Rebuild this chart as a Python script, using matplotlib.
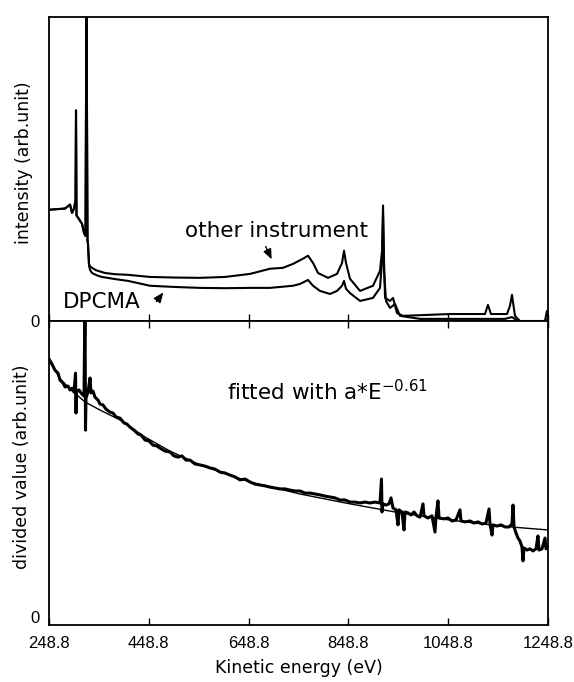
""" Kinetic energy spectra: DPCMA vs other instrument, and divided value """

import numpy as np
import matplotlib
matplotlib.use('Agg')
import matplotlib.pyplot as plt

# upper panel: intensity (arb.unit), both instruments
energy_top = [248.8, 280.9, 290.9, 294.9, 298.9, 301.9, 302.9, 303.9, 306.9, 314.9,
              318.9, 321.9, 323.9, 325.9, 326.9]
intensity_common = [36.6, 37.0, 38.3, 35.6, 37.0, 39.6, 69.3, 34.7, 34.0, 32.0,
                    29.0, 28.0, 110.0, 26.4, 25.4]

energy_other = [329.0, 331.0, 335.0, 343.0, 361.0, 381.0, 407.1, 451.2, 501.3, 551.4,
                601.5, 651.6, 691.7, 717.7, 737.8, 757.8, 767.8, 777.9, 787.9, 807.9,
                826.0, 836.0, 840.0, 844.0, 852.0, 872.1, 898.1, 912.1, 916.2, 918.2,
                920.2, 922.2, 932.2, 938.2, 946.2, 958.2, 1052.4, 1122.5, 1128.5, 1134.5,
                1166.6, 1172.6, 1176.6, 1182.6, 1192.6, 1242.7, 1246.7, 1248.8]
intensity_other = [18.8, 18.0, 17.5, 16.7, 15.8, 15.4, 15.2, 14.5, 14.3, 14.2,
                   14.5, 15.5, 17.2, 17.5, 18.8, 20.5, 21.5, 19.1, 15.8, 14.2,
                   15.5, 19.1, 23.1, 19.1, 13.9, 9.9, 11.6, 16.5, 23.1, 38.0,
                   19.8, 7.6, 6.6, 7.6, 2.6, 1.7, 2.3, 2.3, 5.3, 2.3,
                   2.3, 5.0, 8.6, 1.7, 0.0, 0.0, 3.3, 1.3]

energy_dpcma = [329.0, 331.0, 335.0, 345.0, 355.0, 381.0, 407.1, 451.2, 501.3, 551.4,
                601.5, 651.6, 691.7, 737.8, 751.8, 767.8, 777.9, 791.9, 811.9, 826.0,
                836.0, 840.0, 844.0, 852.0, 872.1, 898.1, 912.1, 916.2, 918.2, 920.2,
                924.2, 932.2, 942.2, 952.2, 992.3, 1162.6, 1176.6, 1188.6, 1242.7, 1248.8]
intensity_dpcma = [18.2, 16.8, 15.8, 15.0, 14.5, 13.8, 13.2, 11.6, 11.2, 10.9,
                   10.8, 10.9, 10.9, 11.6, 12.2, 13.5, 11.6, 9.9, 8.9, 9.9,
                   11.6, 13.2, 10.6, 9.2, 6.6, 7.6, 10.9, 19.8, 34.7, 16.5,
                   6.6, 4.3, 5.6, 1.7, 0.7, 0.7, 1.3, 0.0, 0.0, 0.7]

# lower panel: divided value (arb.unit) and its fit
energy_div = [248.8, 254.8, 260.8, 266.8, 270.8, 276.9, 280.9, 286.9, 290.9, 294.9,
              298.9, 301.9, 302.9, 303.9, 308.9, 314.9, 318.9, 320.9, 321.9, 322.9,
              326.9, 331.0, 333.0, 337.0, 341.0, 347.0, 351.0, 357.0, 363.0, 371.0,
              377.1, 383.1, 391.1, 399.1, 405.1, 411.1, 419.1, 427.2, 433.2, 441.2,
              449.2, 457.2, 465.2, 471.2, 481.3, 491.3, 499.3, 507.3, 515.3, 523.3,
              531.4, 541.4, 551.4, 561.4, 571.4, 581.5, 591.5, 601.5, 611.5, 621.5,
              631.6, 641.6, 651.6, 661.6, 671.6, 681.7, 691.7, 701.7, 711.7, 721.7,
              731.8, 741.8, 751.8, 761.8, 771.8, 781.8, 791.9, 801.9, 811.9, 821.9,
              831.9, 842.0, 852.0, 862.0, 872.0, 882.0, 892.0, 902.1, 912.1, 915.1,
              916.1, 918.1, 924.2, 930.2, 934.2, 938.2, 944.2, 948.2, 950.2, 956.2,
              960.2, 962.2, 968.2, 974.3, 980.3, 986.3, 992.3, 998.3, 1000.3, 1008.3,
              1016.3, 1022.3, 1024.3, 1028.3, 1030.4, 1040.4, 1048.4, 1056.4, 1064.4, 1072.4,
              1074.4, 1082.5, 1092.5, 1100.5, 1108.5, 1116.5, 1124.5, 1130.6, 1132.6, 1136.6,
              1138.6, 1146.6, 1154.6, 1162.6, 1170.6, 1176.6, 1178.7, 1180.7, 1184.7, 1188.7,
              1192.7, 1196.7, 1198.7, 1200.7, 1206.7, 1212.7, 1218.7, 1224.7, 1228.7, 1230.8,
              1236.8, 1242.8, 1244.8, 1248.8]
divided = [86.0, 84.3, 82.3, 81.3, 79.0, 78.0, 76.7, 77.0, 75.7, 76.3,
           75.0, 81.3, 68.0, 75.0, 75.7, 74.3, 73.7, 106.0, 62.3, 73.0,
           75.0, 79.7, 74.7, 75.3, 73.3, 72.3, 71.0, 70.7, 69.3, 68.3,
           68.0, 66.7, 66.3, 64.7, 64.3, 63.3, 62.3, 61.0, 60.7, 59.0,
           58.7, 57.3, 57.0, 56.3, 55.3, 55.0, 53.7, 53.3, 53.7, 52.3,
           52.3, 51.0, 50.7, 50.3, 49.7, 49.3, 48.3, 48.0, 47.3, 46.7,
           45.7, 46.0, 45.0, 44.3, 44.0, 43.7, 43.3, 43.0, 42.7, 42.7,
           42.3, 42.0, 42.0, 41.3, 41.3, 41.0, 40.7, 40.3, 40.0, 39.7,
           39.0, 39.0, 38.3, 38.3, 38.0, 38.3, 38.0, 38.3, 38.0, 46.0,
           35.0, 37.7, 37.3, 37.7, 39.7, 36.3, 35.7, 30.7, 35.7, 35.0,
           29.0, 35.0, 34.7, 34.0, 35.0, 33.7, 33.3, 37.7, 33.7, 33.0,
           33.7, 28.3, 33.3, 38.7, 33.0, 32.7, 33.0, 32.0, 32.3, 35.7,
           32.0, 31.7, 32.0, 31.3, 31.7, 31.0, 31.3, 36.0, 31.0, 27.3,
           30.7, 30.3, 30.7, 30.0, 30.0, 31.0, 37.3, 30.0, 28.0, 26.3,
           25.3, 23.3, 18.7, 23.0, 22.3, 22.7, 22.0, 22.7, 27.0, 22.3,
           22.7, 26.3, 22.7, 23.3]

energy_fit = [248.8, 270.8, 290.9, 320.9, 351.0, 391.1, 441.2, 491.3, 551.4, 651.6,
              751.8, 852.0, 952.2, 1052.4, 1152.6, 1248.8]
fit_value = [85.7, 79.5, 76.0, 71.7, 69.0, 65.7, 60.0, 55.3, 50.7, 45.0,
             41.0, 37.7, 34.7, 32.3, 30.3, 29.0]

x_ticks = [248.8, 448.8, 648.8, 848.8, 1048.8, 1248.8]
x_tick_labels = ['248.8', '448.8', '648.8', '848.8', '1048.8', '1248.8']


def style_axis(axis, top_ticks):
    """ frame, inward ticks, only a '0' on the y axis """
    axis.set_xlim(248.8, 1248.8)
    axis.set_xticks(x_ticks)
    axis.set_xticklabels(x_tick_labels, fontfamily='Liberation Sans')
    axis.set_yticks([0])
    axis.set_yticklabels(['0'], fontfamily='Liberation Sans')
    axis.tick_params(axis='x', direction='in', length=5, width=1.0,
                     top=top_ticks, labelsize=12, pad=8)
    axis.tick_params(axis='y', length=0, labelsize=12, pad=7)
    for spine in axis.spines.values():
        spine.set_linewidth(1.3)


def arrow_head(axis, tip, tail):
    """ small filled arrowhead without shaft """
    axis.annotate('', xy=tip, xytext=tail,
                  arrowprops=dict(arrowstyle='-|>,head_length=0.6,head_width=0.25',
                                  color='black', lw=1.0, shrinkA=0, shrinkB=0))


def main():
    """ Main Function """
    fig = plt.figure(figsize=(5.74, 6.82), dpi=100)
    ax_top = fig.add_axes([0.0854, 0.5293, 0.8693, 0.4457])
    ax_bot = fig.add_axes([0.0854, 0.0836, 0.8693, 0.4457])

    # 上段: 強度
    e_other = np.concatenate([energy_top, energy_other])
    i_other = np.concatenate([intensity_common, intensity_other])
    e_dpcma = np.concatenate([energy_top, energy_dpcma])
    i_dpcma = np.concatenate([intensity_common, intensity_dpcma])
    ax_top.plot(e_other, i_other, color='black', lw=1.5)
    ax_top.plot(e_dpcma, i_dpcma, color='black', lw=1.5)
    ax_top.set_ylim(0, 100)
    style_axis(ax_top, top_ticks=False)
    ax_top.tick_params(axis='x', labelbottom=False)

    ax_top.text(705, 29.7, 'other instrument', fontsize=15.5, ha='center', va='center')
    arrow_head(ax_top, (695, 20.3), (683, 24.5))
    ax_top.text(355, 6.3, 'DPCMA', fontsize=15.5, ha='center', va='center')
    arrow_head(ax_top, (478, 9.4), (464, 6.4))

    # 下段: 割り算値とフィット
    ax_bot.plot(energy_div, divided, color='black', lw=2.2)
    ax_bot.plot(energy_fit, fit_value, color='black', lw=1.0)
    ax_bot.set_ylim(-2.7, 98.7)
    style_axis(ax_bot, top_ticks=True)
    ax_bot.text(605, 75, r'fitted with a*E$^{\mathregular{-0.61}}$', fontsize=15.5,
                ha='left', va='center')
    ax_bot.set_xlabel('Kinetic energy (eV)', fontsize=12.5, labelpad=6)

    fig.text(24 / 574, 1 - 163 / 682, 'intensity (arb.unit)', rotation=90,
             fontsize=12.5, ha='center', va='center')
    fig.text(22 / 574, 1 - 467 / 682, 'divided value (arb.unit)', rotation=90,
             fontsize=12.5, ha='center', va='center')

    fig.savefig('out.png', dpi=100)


if __name__ == "__main__":
    main()
